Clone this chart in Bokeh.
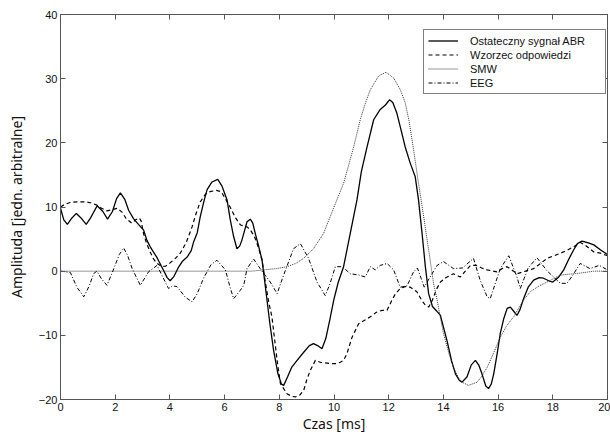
from bokeh.plotting import figure
from bokeh.models import LinearAxis, FixedTicker, Range1d
from bokeh.embed import file_html
from bokeh.resources import INLINE

# ---- data ----
abr_x = [0, 0.12, 0.25, 0.4, 0.58, 0.75, 0.94, 1.1, 1.34, 1.55, 1.72, 1.9, 2.05, 2.19, 2.35, 2.49,
         2.67, 2.85, 3.04, 3.16, 3.28, 3.53, 3.77, 3.9, 4.01, 4.15, 4.3, 4.45, 4.63, 4.78, 4.87, 5.0,
         5.11, 5.25, 5.36, 5.54, 5.75, 5.9, 6.09, 6.2, 6.33, 6.45, 6.55, 6.63, 6.82, 6.94, 7.03, 7.12,
         7.25, 7.37, 7.45, 7.55, 7.65, 7.79, 7.95, 8.08, 8.16, 8.3, 8.45, 8.65, 8.9, 9.1, 9.25, 9.4,
         9.56, 9.7, 9.85, 9.99, 10.15, 10.35, 10.6, 10.84, 11.0, 11.2, 11.45, 11.69, 11.88, 12.03,
         12.15, 12.3, 12.48, 12.6, 12.79, 12.97, 13.09, 13.22, 13.34, 13.46, 13.6, 13.75, 13.89,
         14.13, 14.3, 14.44, 14.58, 14.68, 14.86, 15.02, 15.17, 15.3, 15.41, 15.55, 15.65, 15.75,
         15.84, 15.96, 16.08, 16.2, 16.33, 16.45, 16.6, 16.69, 16.8, 16.93, 17.1, 17.3, 17.5, 17.66,
         17.85, 18.0, 18.2, 18.4, 18.6, 18.76, 18.9, 19.07, 19.3, 19.5, 19.75, 20.0]
abr_y = [9.8, 8.0, 7.3, 8.2, 9.0, 8.3, 7.3, 8.3, 10.2, 9.3, 8.1, 9.3, 11.3, 12.2, 11.2, 9.5,
         8.2, 7.3, 6.4, 4.8, 3.8, 2.1, 0.1, -1.0, -1.5, -0.8, 0.5, 1.5, 2.2, 3.2, 4.6, 6.0,
         8.5, 11.0, 12.7, 13.9, 14.3, 13.3, 11.1, 8.2, 5.4, 3.5, 3.9, 4.8, 7.7, 8.1, 7.5, 5.9,
         3.8, 1.7, -1.0, -4.5, -8.0, -12.3, -16.0, -17.6, -17.8, -16.5, -15.0, -13.9, -12.6, -11.6, -11.3, -11.6,
         -12.1, -10.5, -7.5, -4.5, -1.8, 0.7, 6.0, 11.1, 15.5, 19.2, 23.6, 25.2, 25.9, 26.7,
         26.3, 24.6, 21.5, 19.4, 16.8, 14.7, 11.1, 5.9, 0.7, -3.5, -5.5, -6.2, -6.9,
         -10.8, -14.0, -16.0, -17.0, -17.3, -16.5, -14.6, -13.9, -14.7, -16.0, -17.9, -18.3, -17.6,
         -16.0, -13.0, -9.7, -7.5, -5.8, -5.6, -6.4, -6.9, -6.0, -4.3, -2.5, -1.4, -1.0, -1.1,
         -1.5, -1.7, -1.0, 0.2, 2.0, 3.3, 4.3, 4.7, 4.4, 4.1, 3.3, 2.6]

resp_x = [0, 0.15, 0.35, 0.6, 0.94, 1.15, 1.33, 1.5, 1.7, 1.9, 2.07, 2.25, 2.4, 2.6, 2.75, 2.88,
          2.95, 3.04, 3.15, 3.28, 3.4, 3.53, 3.7, 3.85, 4.01, 4.2, 4.38, 4.6, 4.81, 4.95, 5.11, 5.3,
          5.47, 5.7, 5.87, 6.0, 6.2, 6.4, 6.58, 6.82, 6.95, 7.12, 7.25, 7.37, 7.5, 7.62, 7.73, 7.92,
          8.04, 8.28, 8.45, 8.59, 8.75, 8.89, 9.0, 9.13, 9.32, 9.5, 9.86, 10.1, 10.23, 10.35, 10.47,
          10.66, 10.9, 11.1, 11.33, 11.55, 11.76, 11.94, 12.12, 12.25, 12.42, 12.6, 12.79, 13.03,
          13.2, 13.34, 13.46, 13.6, 13.75, 13.89, 14.1, 14.37, 14.62, 14.8, 14.99, 15.2, 15.4, 15.6,
          15.96, 16.15, 16.33, 16.5, 16.69, 17.0, 17.3, 17.55, 17.79, 18.05, 18.28, 18.5, 18.76,
          19.0, 19.2, 19.5, 19.75, 20.0]
resp_y = [10.0, 10.4, 10.7, 10.8, 10.8, 10.6, 10.3, 9.8, 9.4, 9.6, 9.8, 9.2, 8.2, 7.5, 8.0, 8.3,
          7.8, 5.8, 4.3, 3.0, 1.9, 1.2, 0.7, 0.8, 1.3, 2.0, 2.8, 4.5, 6.9, 8.9, 10.8, 12.0,
          12.4, 12.6, 12.4, 11.5, 10.0, 8.3, 7.2, 6.9, 6.4, 5.1, 3.5, 1.7, -2.0, -5.0, -7.1, -13.9,
          -17.5, -19.1, -19.5, -19.6, -19.3, -18.6, -17.0, -15.5, -13.9, -14.2, -14.4, -14.4, -14.2, -13.9, -12.9,
          -10.3, -8.2, -7.7, -7.1, -6.4, -6.1, -6.1, -4.5, -3.5, -2.7, -2.4, -2.5, -3.2,
          -4.5, -5.3, -5.6, -4.5, -2.8, -1.7, -1.0, -0.4, -0.9, 0.0, 0.9, 0.9, 0.5, 0.2,
          -0.1, 0.4, 0.7, 0.2, -0.4, 0.0, 0.4, 1.2, 2.0, 2.4, 2.8, 3.2, 3.8,
          4.5, 4.0, 3.0, 2.8, 2.4]

smw_x = [0, 7.0, 7.43, 7.9, 8.28, 8.6, 8.89, 9.25, 9.62, 10.0, 10.35, 10.71, 10.96, 11.15, 11.33,
         11.63, 11.9, 12.18, 12.42, 12.6, 12.75, 12.91, 13.09, 13.28, 13.46, 13.64, 13.77, 14.0,
         14.2, 14.37, 14.55, 14.68, 14.92, 15.23, 15.4, 15.6, 15.85, 16.08, 16.3, 16.57, 16.93,
         17.18, 17.5, 17.79, 18.28, 19.0, 19.5, 20.0]
smw_y = [0, 0, 0.2, 0.4, 0.7, 1.2, 2.0, 3.5, 5.9, 10.0, 13.7, 19.2, 23.6, 26.2, 28.3,
         30.4, 31.0, 30.1, 28.3, 26.3, 23.3, 18.9, 13.7, 8.5, 3.3, -1.9, -4.5, -9.7,
         -12.8, -15.0, -16.6, -17.3, -17.8, -17.3, -16.4, -15.0, -12.6, -10.3, -8.6, -7.1, -4.5,
         -3.2, -2.3, -1.7, -0.6, -0.3, 0.0, 0.0]

eeg_x = [0, 0.36, 0.6, 0.85, 1.05, 1.21, 1.33, 1.5, 1.7, 1.95, 2.15, 2.31, 2.45, 2.62, 2.92, 3.22,
         3.53, 3.75, 3.95, 4.1, 4.26, 4.55, 4.81, 5.0, 5.23, 5.5, 5.72, 6.03, 6.2, 6.33, 6.57, 6.7,
         6.82, 7.06, 7.3, 7.67, 7.92, 8.16, 8.52, 8.77, 9.07, 9.38, 9.68, 9.85, 10.05, 10.3, 10.6,
         10.9, 11.14, 11.33, 11.51, 11.69, 11.94, 12.18, 12.42, 12.67, 12.91, 13.05, 13.3, 13.5,
         13.77, 14.0, 14.37, 14.7, 15.1, 15.35, 15.6, 15.71, 16.08, 16.39, 16.69, 16.81, 17.1,
         17.42, 17.8, 18.28, 18.52, 18.75, 19.0, 19.36, 19.7, 20.0]
eeg_y = [0, -0.2, -2.5, -4.0, -2.3, -0.4, 0.0, -1.2, -2.2, 0.4, 2.6, 3.6, 2.5, 0.4, -2.2, -0.1,
         0.9, -1.0, -2.7, -2.3, -2.4, -4.0, -4.8, -3.5, -1.1, 1.0, 1.7, 0.2, -2.5, -4.3, -3.0, -2.2,
         0.4, 1.9, 0.4, -1.7, -3.5, -0.6, 3.5, 4.3, 2.0, -1.7, -3.8, -2.0, 0.7, 0.7, -0.4,
         -0.6, -0.9, 0.7, 0.2, 0.9, 1.2, 0.2, -2.5, -2.3, -0.1, 0.5, -2.5, -1.0,
         0.9, 1.5, 0.4, 0.5, 2.0, -1.5, -4.0, -4.3, 0.4, 2.4, -0.9, -2.7, 0.5,
         2.1, 0.0, -1.9, -1.9, -0.5, 1.2, 0.4, 0.9, 0.2]

x_ticks = [0, 2, 4, 6, 8, 10, 12, 14, 16, 18, 20]
y_ticks = [-20, -10, 0, 10, 20, 30, 40]

labels = ["Ostateczny sygnał ABR", "Wzorzec odpowiedzi", "SMW", "EEG"]

# ---- figure ----
p = figure(width=610, height=436, output_backend="svg", toolbar_location=None,
           x_range=Range1d(0, 20), y_range=Range1d(-20, 40),
           min_border_left=60, min_border_right=3, min_border_top=14, min_border_bottom=37)
p.xgrid.visible = False
p.ygrid.visible = False
p.outline_line_color = "#555555"
p.outline_line_width = 1

p.line(abr_x, abr_y, line_color="black", line_width=1.3, legend_label=labels[0])
p.line(resp_x, resp_y, line_color="black", line_width=1.2, line_dash="4 3", legend_label=labels[1])
p.line(smw_x, smw_y, line_color="#333333", line_width=1.0, line_dash="1 1", legend_label=labels[2])
p.line(eeg_x, eeg_y, line_color="black", line_width=1.0, line_dash="4 2 1 2", legend_label=labels[3])

AX = "#555555"
TXT = "#111111"
for ax in (p.xaxis[0], p.yaxis[0]):
    ax.axis_line_color = AX
    ax.major_tick_line_color = AX
    ax.major_tick_in = 5
    ax.major_tick_out = 0
    ax.minor_tick_line_color = None
    ax.major_label_text_font = "Liberation Sans"
    ax.major_label_text_font_size = "11px"
    ax.major_label_text_color = TXT
    ax.axis_label_text_font = "Noto Sans"
    ax.axis_label_text_font_size = "14px"
    ax.axis_label_text_font_style = "normal"
    ax.axis_label_text_color = TXT

p.xaxis[0].ticker = FixedTicker(ticks=x_ticks)
p.yaxis[0].ticker = FixedTicker(ticks=y_ticks)
p.xaxis[0].axis_label = "Czas [ms]"
p.yaxis[0].axis_label = "Amplituda [jedn. arbitralne]"
p.xaxis[0].major_label_standoff = 3
p.xaxis[0].axis_label_standoff = 0
p.yaxis[0].major_label_standoff = 3
p.yaxis[0].axis_label_standoff = 10

# tick marks on top and right sides (no labels)
top = LinearAxis(ticker=FixedTicker(ticks=x_ticks),
                 major_label_overrides={t: "" for t in x_ticks})
right = LinearAxis(ticker=FixedTicker(ticks=y_ticks),
                   major_label_overrides={t: "" for t in y_ticks})
for ax in (top, right):
    ax.axis_line_color = AX
    ax.major_tick_line_color = AX
    ax.major_tick_in = 5
    ax.major_tick_out = 0
    ax.minor_tick_line_color = None
    ax.major_label_standoff = 0
p.add_layout(top, "above")
p.add_layout(right, "right")

lg = p.legend[0]
lg.location = (363, 305)
lg.border_line_color = "black"
lg.border_line_width = 1
lg.background_fill_color = "white"
lg.background_fill_alpha = 1
lg.label_text_font = "Liberation Sans"
lg.label_text_font_size = "11px"
lg.label_text_color = TXT
lg.glyph_width = 30
lg.glyph_height = 13
lg.label_height = 13
lg.label_width = 131
lg.label_standoff = 12
lg.padding = 4
lg.spacing = 1
lg.margin = 0

open("out.html", "w").write(file_html(p, INLINE))
